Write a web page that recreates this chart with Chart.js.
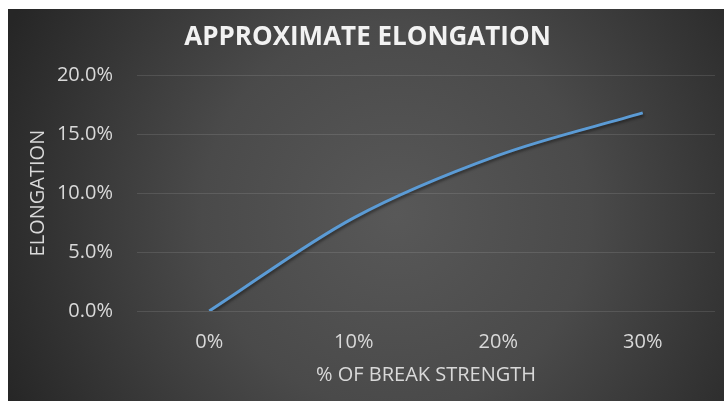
<!DOCTYPE html>
<html>
<head>
<meta charset="utf-8">
<script src="https://cdn.jsdelivr.net/npm/chart.js@4/dist/chart.umd.min.js"></script>
<style>
  html, body { margin: 0; padding: 0; background: #ffffff; }
  #wrap { width: 724px; height: 401px; position: relative; }
</style>
</head>
<body>
<div id="wrap"><canvas id="c" width="724" height="401"></canvas></div>
<script>
const categories = ['0%', '10%', '20%', '30%'];
const elongation = [0.0, 0.079, 0.132, 0.168];
const chartTitle = 'APPROXIMATE ELONGATION';
const xTitle = '% OF BREAK STRENGTH';
const yTitle = 'ELONGATION';
const yMin = 0, yMax = 0.2, yStep = 0.05;

const bgPlugin = {
  id: 'bg',
  beforeDraw(chart) {
    const ctx = chart.ctx;
    const W = chart.width, H = chart.height;
    ctx.save();
    ctx.fillStyle = '#ffffff';
    ctx.fillRect(0, 0, W, H);
    const x0 = 8, y0 = 9;
    const cx = (x0 + W) / 2 + 30, cy = (y0 + H) / 2 + 10;
    const g = ctx.createRadialGradient(cx, cy, 0, cx, cy, 430);
    g.addColorStop(0, '#585858');
    g.addColorStop(0.45, '#4a4a4a');
    g.addColorStop(1, '#262626');
    ctx.fillStyle = g;
    ctx.fillRect(x0, y0, W - x0, H - y0);
    ctx.restore();
  }
};

const shadowPlugin = {
  id: 'lineShadow',
  beforeDatasetDraw(chart) {
    const ctx = chart.ctx;
    ctx.save();
    ctx.shadowColor = 'rgba(0,0,0,0.45)';
    ctx.shadowBlur = 3;
    ctx.shadowOffsetX = 1;
    ctx.shadowOffsetY = 2;
  },
  afterDatasetDraw(chart) {
    chart.ctx.restore();
  }
};

new Chart(document.getElementById('c'), {
  type: 'line',
  data: {
    labels: categories,
    datasets: [{
      data: elongation,
      borderColor: '#5B9BD5',
      borderWidth: 3,
      pointRadius: 0,
      tension: 0.35,
      cubicInterpolationMode: 'monotone',
      fill: false
    }]
  },
  options: {
    responsive: false,
    animation: false,
    devicePixelRatio: 1,
    layout: { padding: { left: 20, top: 9, right: 9, bottom: 0 } },
    plugins: {
      legend: { display: false },
      tooltip: { enabled: false },
      title: {
        display: true,
        text: chartTitle,
        color: '#f2f2f2',
        font: { family: 'Open Sans', size: 26, weight: 'bold' },
        padding: { top: 13, bottom: 22 }
      }
    },
    scales: {
      x: {
        offset: true,
        grid: { display: false, drawTicks: false },
        border: { display: false },
        ticks: {
          color: '#d9d9d9',
          font: { family: 'Open Sans', size: 20 },
          padding: 19,
          maxRotation: 0
        },
        title: {
          display: true,
          text: xTitle,
          color: '#d9d9d9',
          font: { family: 'Open Sans', size: 20 },
          padding: { top: 0, bottom: 14 }
        },
        afterFit(s) { s.height = 90; }
      },
      y: {
        min: yMin,
        max: yMax,
        grid: { color: 'rgba(255,255,255,0.11)', lineWidth: 1, drawTicks: false },
        border: { display: false },
        ticks: {
          stepSize: yStep,
          color: '#d9d9d9',
          font: { family: 'Open Sans', size: 20 },
          padding: 24,
          callback: v => (v * 100).toFixed(1) + '%'
        },
        title: {
          display: true,
          text: yTitle,
          color: '#d9d9d9',
          font: { family: 'Open Sans', size: 20 },
          padding: { top: 6, bottom: 0 }
        },
        afterFit(s) { s.width = 117; }
      }
    }
  },
  plugins: [bgPlugin, shadowPlugin]
});
</script>
</body>
</html>
